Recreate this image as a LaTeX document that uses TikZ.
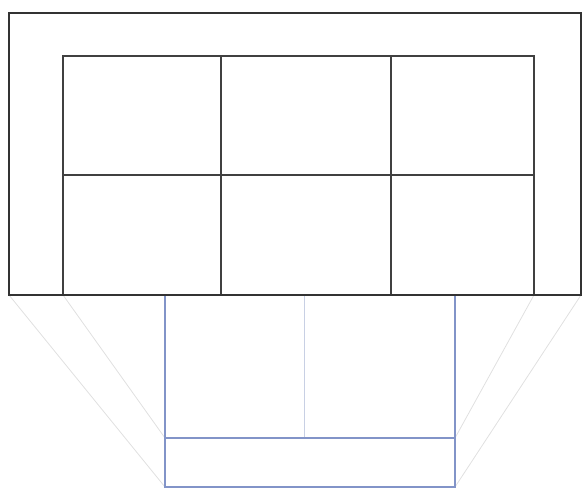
\documentclass[tikz,border=0pt]{standalone}
\begin{document}
\begin{tikzpicture}[x=1pt,y=-1pt,
  frameline/.style={draw=black!80,line width=1.4pt},
  gridline/.style={draw=black!75,line width=1.1pt},
  blueline/.style={draw={rgb,255:red,130;green,148;blue,200},line width=1.1pt},
  faintblue/.style={draw={rgb,255:red,200;green,208;blue,228},line width=0.7pt},
  guide/.style={draw=black!12,line width=0.8pt}]
\useasboundingbox (0,0) rectangle (583,489);
% coordinates
\coordinate (OTL) at (9,13);
\coordinate (OBR) at (581,295);
\coordinate (OBL) at (9,295);
\coordinate (GTL) at (63,56);
\coordinate (GBR) at (534,295);
\coordinate (GBL) at (63,295);
\coordinate (BTL) at (165,295);
\coordinate (BBR) at (455,487);
\coordinate (BBL) at (165,487);
\coordinate (BDL) at (165,438);
\coordinate (BDR) at (455,438);
% guide lines
\draw[guide] (OBL) -- (BBL);
\draw[guide] (GBL) -- (BDL);
\draw[guide] (OBR) -- (BBR);
\draw[guide] (GBR) -- (BDR);
% blue box
\draw[faintblue] (304,295) -- (304,438);
\draw[blueline] (BTL) rectangle (BBR);
\draw[blueline] (BDL) -- (BDR);
% grid
\draw[gridline] (GBL) -- (GTL) -- (534,56) -- (GBR);
\draw[gridline] (63,175) -- (534,175);
\draw[gridline] (221,56) -- (221,295);
\draw[gridline] (391,56) -- (391,295);
% outer frame
\draw[frameline] (OTL) rectangle (OBR);
\end{tikzpicture}
\end{document}
